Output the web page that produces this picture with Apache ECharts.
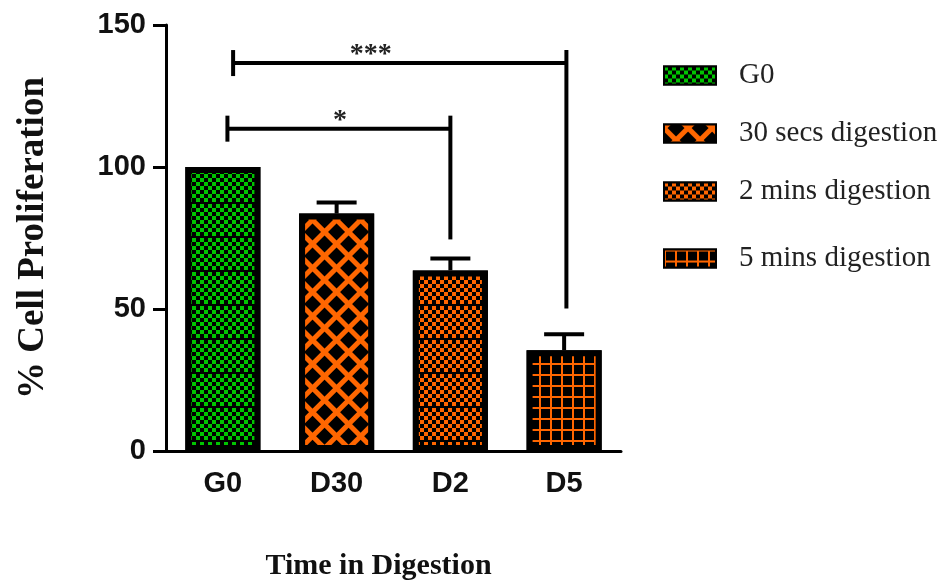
<!DOCTYPE html>
<html>
<head>
<meta charset="utf-8">
<script src="https://cdn.jsdelivr.net/npm/echarts@6.0.0/dist/echarts.min.js"></script>
<style>
  html, body { margin: 0; padding: 0; background: #fff; }
  #chart { width: 948px; height: 586px; }
</style>
</head>
<body>
<div id="chart"></div>
<script>
// categories and legend names
const categories = ['G0', 'D30', 'D2', 'D5']
const seriesNames = ['G0', '30 secs digestion', '2 mins digestion', '5 mins digestion']

// bar means and top of the error bars
const meanValues = [100, 83.6, 63.6, 35.5]
const upperValues = [100, 87.5, 67.8, 41.1]

// y axis ticks
const yMin = 0
const yMax = 150
const yStep = 50

// significance brackets (x in category index units, y in data units)
const bracketStart = [0.09, 0.04]
const bracketEnd = [3.02, 2.0]
const bracketLevel = [136.6, 113.5]
const bracketDrop = [50.2, 74.5]
const bracketLabelX = [1.3, 1.03]
const bracketLabels = ['***', '*']

const GREEN = '#00c400'
const ORANGE = '#ff6600'

// bar fills (decal patterns on black)
const decals = [
  {
    symbol: 'rect', symbolSize: 1, color: GREEN,
    dashArrayX: [[4, 4], [0, 4, 4, 0]],
    dashArrayY: [4, 0, 4, 0, 4, 0, 4, 0, 4, 0, 4, 0, 4, 0, 4, 2]
  },
  {
    symbol: 'rect', symbolSize: 1, color: ORANGE, rotation: Math.PI / 4,
    dashArrayX: [[17, 0], [5, 12]],
    dashArrayY: [5, 0, 12, 0]
  },
  {
    symbol: 'rect', symbolSize: 1, color: ORANGE,
    dashArrayX: [[4, 4], [0, 4, 4, 0]],
    dashArrayY: [4, 0, 4, 0, 4, 0, 4, 0, 4, 0, 4, 0, 4, 0, 4, 2]
  },
  {
    symbol: 'rect', symbolSize: 1, color: ORANGE,
    dashArrayX: [[11, 0], [2, 9]],
    dashArrayY: [2, 0, 9, 0]
  }
]

const chart = echarts.init(document.getElementById('chart'))

const barSeries = seriesNames.map((name, i) => ({
  name: name,
  type: 'bar',
  barWidth: '66%',
  barGap: '-100%',
  data: categories.map((c, j) => (j === i ? meanValues[j] : '-')),
  itemStyle: {
    color: '#000',
    borderColor: '#000',
    borderWidth: 6,
    decal: decals[i]
  },
  emphasis: { disabled: true },
  z: 2
}))

const errorSeries = {
  type: 'custom',
  xAxisIndex: 0,
  yAxisIndex: 0,
  data: categories.map((c, i) => [i, meanValues[i], upperValues[i]]),
  encode: { x: 0, y: [1, 2] },
  z: 3,
  renderItem: function (params, api) {
    const mean = api.value(1)
    const up = api.value(2)
    if (up <= mean) return
    const base = api.coord([api.value(0), mean])
    const top = api.coord([api.value(0), up])
    const style = { stroke: '#000', lineWidth: 4 }
    return {
      type: 'group',
      children: [
        { type: 'line', shape: { x1: base[0], y1: base[1], x2: top[0], y2: top[1] }, style: style },
        { type: 'line', shape: { x1: top[0] - 20, y1: top[1], x2: top[0] + 20, y2: top[1] }, style: style }
      ]
    }
  }
}

const bracketSeries = {
  type: 'custom',
  xAxisIndex: 1,
  yAxisIndex: 0,
  data: bracketStart.map((s, i) => [s, bracketEnd[i], bracketLevel[i], bracketDrop[i], bracketLabelX[i]]),
  encode: { x: [0, 1, 4], y: [2, 3] },
  z: 4,
  renderItem: function (params, api) {
    const level = api.value(2)
    const p0 = api.coord([api.value(0), level])
    const p1 = api.coord([api.value(1), level])
    const pd = api.coord([api.value(1), api.value(3)])
    const pl = api.coord([api.value(4), level])
    const style = { stroke: '#000', lineWidth: 4 }
    return {
      type: 'group',
      children: [
        { type: 'line', shape: { x1: p0[0], y1: p0[1], x2: p1[0], y2: p1[1] }, style: style },
        { type: 'line', shape: { x1: p0[0], y1: p0[1] - 13, x2: p0[0], y2: p0[1] + 13 }, style: style },
        { type: 'line', shape: { x1: p1[0], y1: p1[1] - 13, x2: pd[0], y2: pd[1] }, style: style },
        {
          type: 'text',
          x: pl[0],
          y: p0[1] - 8,
          style: {
            text: bracketLabels[params.dataIndex],
            align: 'center',
            verticalAlign: 'middle',
            font: 'bold 28px "Liberation Serif"',
            fill: '#222'
          }
        }
      ]
    }
  }
}

const legendTops = [61, 119, 177, 244]

const option = {
  animation: false,
  backgroundColor: '#fff',
  grid: { left: 166, right: 327, top: 25, bottom: 132 },
  legend: seriesNames.map((name, i) => ({
    data: [name],
    left: 663,
    top: legendTops[i],
    padding: 0,
    icon: 'rect',
    itemWidth: 52,
    itemHeight: 18,
    selectedMode: false,
    textStyle: {
      fontFamily: 'Liberation Serif',
      fontSize: 29,
      color: '#222',
      padding: [0, 0, 0, 18]
    }
  })),
  xAxis: [
    {
      type: 'category',
      data: categories,
      axisLine: { lineStyle: { color: '#000', width: 3 } },
      axisTick: { alignWithLabel: true, length: 10, lineStyle: { color: '#000', width: 3 } },
      axisLabel: {
        margin: 18,
        color: '#111',
        fontFamily: 'Liberation Sans',
        fontWeight: 'bold',
        fontSize: 29
      },
      name: 'Time in Digestion',
      nameLocation: 'middle',
      nameGap: 100,
      nameTextStyle: {
        fontFamily: 'Liberation Serif',
        fontWeight: 'bold',
        fontSize: 30,
        color: '#111',
        padding: [0, 30, 0, 0]
      }
    },
    {
      type: 'value',
      show: false,
      min: -0.5,
      max: 3.5
    }
  ],
  yAxis: {
    type: 'value',
    min: yMin,
    max: yMax,
    interval: yStep,
    axisLine: { show: true, onZero: false, lineStyle: { color: '#000', width: 3 } },
    axisTick: { show: true, length: 13, lineStyle: { color: '#000', width: 3 } },
    splitLine: { show: false },
    axisLabel: {
      margin: 20,
      color: '#111',
      fontFamily: 'Liberation Sans',
      fontWeight: 'bold',
      fontSize: 29
    },
    name: '% Cell Proliferation',
    nameLocation: 'middle',
    nameRotate: 90,
    nameGap: 114,
    nameTextStyle: {
      fontFamily: 'Liberation Serif',
      fontWeight: 'bold',
      fontSize: 37,
      color: '#111'
    }
  },
  series: [...barSeries, errorSeries, bracketSeries]
}

chart.setOption(option)
</script>
</body>
</html>
